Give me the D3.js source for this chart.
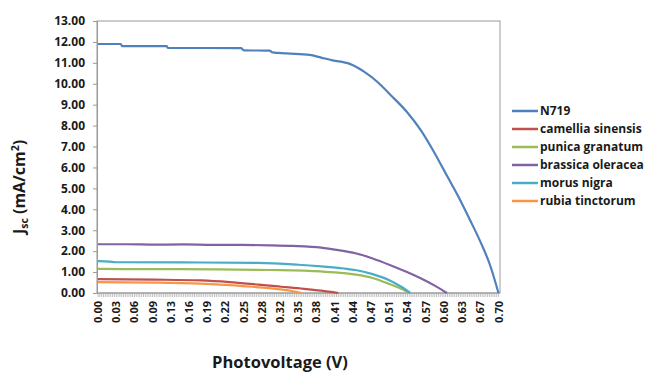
<!DOCTYPE html>
<html>
<head>
<meta charset="utf-8">
<script src="https://cdn.jsdelivr.net/npm/d3@7"></script>
<style>
  body { margin: 0; background: #fff; }
  svg { display: block; font-family: "Open Sans", "DejaVu Sans", sans-serif; }
</style>
</head>
<body>
<svg id="chart" width="650" height="374"></svg>
<script>
// data: [voltage (V), Jsc (mA/cm2)]
const seriesNames = ["N719", "camellia sinensis", "punica granatum", "brassica oleracea", "morus nigra", "rubia tinctorum"];
const seriesColors = ["#4F81BD", "#C0504D", "#9BBB59", "#8064A2", "#4BACC6", "#F79646"];

const n719 = [[0, 11.90], [0.04, 11.90], [0.042, 11.80], [0.12, 11.80], [0.122, 11.72], [0.25, 11.70],
  [0.255, 11.60], [0.30, 11.58], [0.305, 11.50], [0.33, 11.45], [0.37, 11.38], [0.39, 11.25], [0.41, 11.12],
  [0.44, 10.95], [0.465, 10.58], [0.49, 10.05], [0.51, 9.5], [0.54, 8.65], [0.565, 7.75], [0.585, 6.85],
  [0.61, 5.6], [0.63, 4.6], [0.65, 3.5], [0.67, 2.35], [0.685, 1.35], [0.70, 0.0]];
const camellia = [[0, 0.66], [0.1, 0.64], [0.18, 0.60], [0.23, 0.52], [0.28, 0.40], [0.32, 0.30],
  [0.36, 0.20], [0.39, 0.11], [0.42, 0.0]];
const punica = [[0, 1.15], [0.1, 1.14], [0.2, 1.13], [0.3, 1.10], [0.39, 1.03], [0.43, 0.95], [0.45, 0.88],
  [0.48, 0.72], [0.51, 0.42], [0.53, 0.20], [0.545, 0.0]];
const brassica = [[0, 2.33], [0.05, 2.33], [0.1, 2.31], [0.15, 2.32], [0.2, 2.30], [0.25, 2.30], [0.3, 2.28],
  [0.34, 2.25], [0.39, 2.17], [0.42, 2.05], [0.45, 1.90], [0.48, 1.65], [0.51, 1.34], [0.54, 1.0],
  [0.57, 0.62], [0.59, 0.33], [0.61, 0.0]];
const morus = [[0, 1.52], [0.02, 1.50], [0.03, 1.47], [0.15, 1.46], [0.28, 1.44], [0.35, 1.35], [0.39, 1.27],
  [0.43, 1.17], [0.45, 1.10], [0.48, 0.90], [0.51, 0.60], [0.53, 0.30], [0.546, 0.0]];
const rubia = [[0, 0.52], [0.1, 0.50], [0.18, 0.45], [0.23, 0.38], [0.27, 0.30], [0.30, 0.23], [0.33, 0.14],
  [0.356, 0.0]];

const allSeries = [n719, camellia, punica, brassica, morus, rubia];

const yTicks = d3.range(0, 13.5, 1);
const xTickLabels = ["0.00", "0.03", "0.06", "0.09", "0.13", "0.16", "0.19", "0.22", "0.25", "0.28", "0.32",
  "0.35", "0.38", "0.41", "0.44", "0.47", "0.51", "0.54", "0.57", "0.60", "0.63", "0.67", "0.70"];

const svg = d3.select("#chart");
const plot = { left: 97, right: 500, top: 21, bottom: 293 };

const x = d3.scaleLinear().domain([0, 0.70]).range([98, 498.5]);
const y = d3.scaleLinear().domain([0, 13]).range([plot.bottom, plot.top]);

// frame
svg.append("rect")
  .attr("x", plot.left).attr("y", plot.top)
  .attr("width", plot.right - plot.left).attr("height", plot.bottom - plot.top)
  .attr("fill", "none").attr("stroke", "#9a9a9a").attr("stroke-width", 1);

// y axis
const yAxis = svg.append("g")
  .attr("transform", `translate(${plot.left},0)`)
  .call(d3.axisLeft(y).tickValues(yTicks).tickFormat(d3.format(".2f")).tickSize(4).tickPadding(8));
yAxis.select(".domain").attr("stroke", "#9a9a9a");
yAxis.selectAll(".tick line").attr("stroke", "#9a9a9a");
yAxis.selectAll("text").attr("font-size", 12).attr("font-weight", "bold").attr("fill", "#1a1a1a")
  .attr("font-family", "'Open Sans', sans-serif");

// dense category ticks along x axis
const minorTicks = d3.range(0, 221).map(i => i * 0.70 / 220);
svg.append("g").selectAll("line")
  .data(minorTicks)
  .join("line")
  .attr("x1", d => x(d)).attr("x2", d => x(d))
  .attr("y1", plot.bottom).attr("y2", plot.bottom + 4)
  .attr("stroke", "#b0b0b0").attr("stroke-width", 0.8);

svg.append("line")
  .attr("x1", plot.left).attr("x2", plot.right)
  .attr("y1", plot.bottom).attr("y2", plot.bottom)
  .attr("stroke", "#9a9a9a");

// x tick labels (rotated)
svg.append("g").selectAll("text")
  .data(xTickLabels)
  .join("text")
  .attr("transform", (d, i) => `translate(${x(i * 0.70 / 22) + 4},${plot.bottom + 8}) rotate(-90)`)
  .attr("text-anchor", "end")
  .attr("font-size", 11).attr("font-weight", "bold").attr("fill", "#1a1a1a")
  .text(d => d);

// curves
const line = d3.line().x(d => x(d[0])).y(d => y(d[1])).curve(d3.curveMonotoneX);
svg.append("g").selectAll("path")
  .data(allSeries)
  .join("path")
  .attr("d", line)
  .attr("fill", "none")
  .attr("stroke", (d, i) => seriesColors[i])
  .attr("stroke-width", 2.2)
  .attr("stroke-linejoin", "round");

// axis titles
svg.append("text")
  .attr("x", 280).attr("y", 368)
  .attr("text-anchor", "middle")
  .attr("font-size", 16.5).attr("font-weight", "bold").attr("fill", "#1a1a1a")
  .text("Photovoltage (V)");

const yt = svg.append("text")
  .attr("transform", "translate(25,187) rotate(-90)")
  .attr("text-anchor", "middle")
  .attr("font-size", 16).attr("font-weight", "bold").attr("fill", "#1a1a1a");
yt.append("tspan").text("J");
yt.append("tspan").attr("font-size", 10.5).attr("dy", 3).text("sc");
yt.append("tspan").attr("dy", -3).text(" (mA/cm");
yt.append("tspan").attr("font-size", 10.5).attr("dy", -6).text("2");
yt.append("tspan").attr("dy", 6).text(")");

// legend
const legend = svg.append("g").selectAll("g")
  .data(seriesNames)
  .join("g")
  .attr("transform", (d, i) => `translate(512,${111 + i * 18})`);
legend.append("line")
  .attr("x1", 0).attr("x2", 26)
  .attr("stroke", (d, i) => seriesColors[i]).attr("stroke-width", 2.5);
legend.append("text")
  .attr("x", 28).attr("dy", "0.35em")
  .attr("font-size", 12).attr("font-weight", "bold").attr("fill", "#1a1a1a")
  .text(d => d);
</script>
</body>
</html>
